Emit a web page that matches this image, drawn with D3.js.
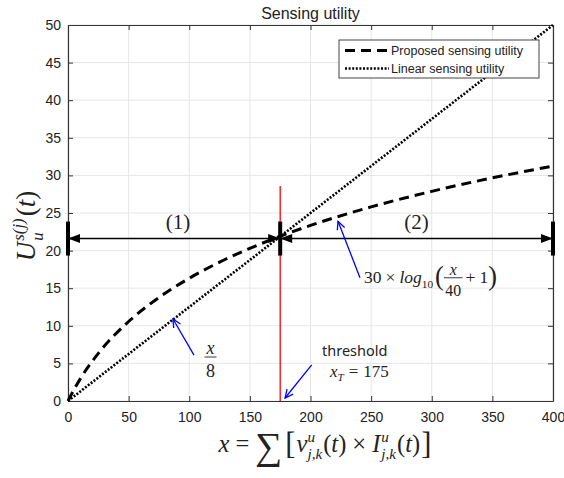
<!DOCTYPE html>
<html>
<head>
<meta charset="utf-8">
<script src="https://cdn.jsdelivr.net/npm/d3@7"></script>
<style>
  body { margin: 0; background: #fff; }
  text { fill: #222; }
</style>
</head>
<body>
<svg id="chart" width="564" height="478"></svg>
<script>
// ---- data ----
const xTicks = [0, 50, 100, 150, 200, 250, 300, 350, 400];
const yTicks = [0, 5, 10, 15, 20, 25, 30, 35, 40, 45, 50];

// proposed (logarithmic) sensing utility
const proposedX = [0, 5, 10, 25, 50, 75, 100, 125, 150, 175, 200, 250, 300, 350, 400];
const proposedY = [0, 1.53, 2.91, 6.33, 10.57, 13.76, 16.32, 18.46, 20.30, 21.91, 23.35, 25.81, 27.88, 29.67, 31.24];

// linear sensing utility
const linearX = [0, 400];
const linearY = [0, 50];

const legendLabels = ["Proposed sensing utility", "Linear sensing utility"];

// threshold and the two regions
const threshold = 175;
const thresholdTop = 28.6;
const regionBounds = [0, 175, 400];
const regionLevel = 21.6;
const regionLabels = ["(1)", "(2)"];

// blue pointer arrows: tail and tip in data units
const pointerTailX = [103.9, 240.8, 201.0];
const pointerTailY = [6.1, 16.4, 4.8];
const pointerTipX = [86.6, 222.7, 179.0];
const pointerTipY = [10.9, 23.9, 0.4];

// ---- layout ----
const svg = d3.select("#chart");
const L = 68, R = 553, T = 25, B = 401;
const x = d3.scaleLinear().domain([0, 400]).range([L, R]);
const y = d3.scaleLinear().domain([0, 50]).range([B, T]);

const sans = "'Liberation Sans', Arial, sans-serif";
const serif = "'Liberation Serif', 'DejaVu Serif', serif";

// grid
const grid = svg.append("g");
grid.selectAll("line.gx").data(xTicks).join("line")
  .attr("x1", d => x(d)).attr("x2", d => x(d)).attr("y1", T).attr("y2", B)
  .attr("stroke", "#e6e6e6").attr("stroke-width", 1);
grid.selectAll("line.gy").data(yTicks).join("line")
  .attr("y1", d => y(d)).attr("y2", d => y(d)).attr("x1", L).attr("x2", R)
  .attr("stroke", "#e6e6e6").attr("stroke-width", 1);

// axes (ticks inward on all four sides)
function styleAxis(g) {
  g.selectAll(".domain").attr("stroke", "#333").attr("stroke-width", 1.2);
  g.selectAll(".tick line").attr("stroke", "#333");
  g.selectAll("text").style("font-family", sans).style("font-size", "14px").attr("fill", "#404040");
}
svg.append("g").attr("transform", `translate(0,${B})`)
  .call(d3.axisBottom(x).tickValues(xTicks).tickSize(-5).tickSizeOuter(0).tickPadding(11))
  .call(styleAxis);
svg.append("g").attr("transform", `translate(0,${T})`)
  .call(d3.axisTop(x).tickValues(xTicks).tickSize(-5).tickSizeOuter(0).tickFormat(""))
  .call(styleAxis);
svg.append("g").attr("transform", `translate(${L},0)`)
  .call(d3.axisLeft(y).tickValues(yTicks).tickSize(-5).tickSizeOuter(0).tickPadding(7))
  .call(styleAxis);
svg.append("g").attr("transform", `translate(${R},0)`)
  .call(d3.axisRight(y).tickValues(yTicks).tickSize(-5).tickSizeOuter(0).tickFormat(""))
  .call(styleAxis);

// title
svg.append("text").attr("x", (L + R) / 2).attr("y", 19).attr("text-anchor", "middle")
  .style("font-family", sans).style("font-size", "16px").text("Sensing utility");

// curves
const line = d3.line().x(d => x(d[0])).y(d => y(d[1])).curve(d3.curveMonotoneX);
svg.append("path").datum(linearX.map((v, i) => [v, linearY[i]]))
  .attr("d", line).attr("fill", "none").attr("stroke", "#000")
  .attr("stroke-width", 2.6).attr("stroke-dasharray", "2,1.6");
svg.append("path").datum(proposedX.map((v, i) => [v, proposedY[i]]))
  .attr("d", line).attr("fill", "none").attr("stroke", "#000")
  .attr("stroke-width", 3).attr("stroke-dasharray", "10,6");

// threshold line
svg.append("line").attr("x1", x(threshold)).attr("x2", x(threshold))
  .attr("y1", y(thresholdTop)).attr("y2", y(0))
  .attr("stroke", "#ff0000").attr("stroke-width", 1.3);

// region arrows
const ry = y(regionLevel);
svg.append("line").attr("x1", x(regionBounds[0])).attr("x2", x(regionBounds[2]))
  .attr("y1", ry).attr("y2", ry).attr("stroke", "#000").attr("stroke-width", 1.6);
function head(px, dir) { // dir: -1 points left, +1 points right
  const len = 12, h = 4.5;
  return `M${px},${ry} L${px - dir * len},${ry - h} L${px - dir * len},${ry + h} Z`;
}
const heads = [];
for (let i = 0; i < regionBounds.length - 1; i++) {
  heads.push(head(x(regionBounds[i]), -1));
  heads.push(head(x(regionBounds[i + 1]), 1));
}
svg.selectAll("path.head").data(heads).join("path").attr("d", d => d).attr("fill", "#000");
svg.selectAll("rect.bar").data(regionBounds).join("rect")
  .attr("x", d => x(d) - 2).attr("y", ry - 17).attr("width", 4).attr("height", 34).attr("fill", "#000");
svg.selectAll("text.region").data(regionLabels).join("text")
  .attr("x", (d, i) => (x(regionBounds[i]) + x(regionBounds[i + 1])) / 2 + (i === 0 ? 4 : 0))
  .attr("y", ry - 10).attr("text-anchor", "middle")
  .style("font-family", serif).style("font-size", "21px").text(d => d);

// blue pointers
const pointers = pointerTailX.map((v, i) => ({ x1: x(v), y1: y(pointerTailY[i]), x2: x(pointerTipX[i]), y2: y(pointerTipY[i]) }));
const pg = svg.append("g").attr("stroke", "#0000ff").attr("fill", "none").attr("stroke-width", 1.3);
pointers.forEach(p => {
  pg.append("line").attr("x1", p.x1).attr("y1", p.y1).attr("x2", p.x2).attr("y2", p.y2);
  const a = Math.atan2(p.y2 - p.y1, p.x2 - p.x1), len = 9, sp = 0.45;
  pg.append("path").attr("d",
    `M${p.x2 - len * Math.cos(a - sp)},${p.y2 - len * Math.sin(a - sp)} L${p.x2},${p.y2} L${p.x2 - len * Math.cos(a + sp)},${p.y2 - len * Math.sin(a + sp)}`);
});

// legend
const lg = svg.append("g");
lg.append("rect").attr("x", 339).attr("y", 40).attr("width", 200).attr("height", 38)
  .attr("fill", "#fff").attr("stroke", "#444").attr("stroke-width", 1);
lg.append("line").attr("x1", 345).attr("x2", 389).attr("y1", 50.5).attr("y2", 50.5)
  .attr("stroke", "#000").attr("stroke-width", 3).attr("stroke-dasharray", "10,6");
lg.append("line").attr("x1", 345).attr("x2", 389).attr("y1", 68.5).attr("y2", 68.5)
  .attr("stroke", "#000").attr("stroke-width", 2.4).attr("stroke-dasharray", "2,1.6");
lg.selectAll("text").data(legendLabels).join("text")
  .attr("x", 391).attr("y", (d, i) => 55 + i * 18)
  .style("font-family", sans).style("font-size", "12.5px").text(d => d);

// ---- typeset math helper ----
function mathLine(parent, parts, size) {
  const g = parent.append("g").style("font-family", serif);
  let cx = 0;
  const txt = (t, px, py, fs, it) => g.append("text").attr("x", px).attr("y", py)
    .style("font-size", fs + "px").style("font-style", it ? "italic" : "normal").text(t);
  parts.forEach(p => {
    if (p.stack) {
      const fs = size * 0.62;
      const a = txt(p.stack[0], cx, -size * 0.42, fs, true);
      const b = txt(p.stack[1], cx, size * 0.28, fs, true);
      cx += Math.max(a.node().getComputedTextLength(), b.node().getComputedTextLength()) + 1;
    } else if (p.frac) {
      const fs = size * 0.9;
      const a = txt(p.frac[0], 0, -size * 0.45, fs, true);
      const b = txt(p.frac[1], 0, size * 0.72, fs, false);
      const w = Math.max(a.node().getComputedTextLength(), b.node().getComputedTextLength()) + 3;
      a.attr("x", cx + (w - a.node().getComputedTextLength()) / 2);
      b.attr("x", cx + (w - b.node().getComputedTextLength()) / 2);
      g.append("line").attr("x1", cx).attr("x2", cx + w).attr("y1", -size * 0.3).attr("y2", -size * 0.3)
        .attr("stroke", "#222").attr("stroke-width", 0.9);
      cx += w + 1;
    } else {
      const fs = size * (p.scale || 1);
      const t = txt(p.t, cx + (p.pre || 0), p.dy || 0, fs, p.it);
      cx += (p.pre || 0) + t.node().getComputedTextLength() + (p.gap || 0);
    }
  });
  return { g, width: cx };
}

// x-axis label
const xl = mathLine(svg, [
  { t: "x", it: true, gap: 6 }, { t: "=", gap: 6 },
  { t: "∑", scale: 1.55, dy: 7, gap: 3 }, { t: "[", scale: 1.25, dy: 2, gap: 1 },
  { t: "v", it: true }, { stack: ["u", "j,k"] }, { t: "(" }, { t: "t", it: true }, { t: ")", gap: 6 },
  { t: "×", gap: 6 },
  { t: "I", it: true, gap: 1 }, { stack: ["u", "j,k"] }, { t: "(" }, { t: "t", it: true }, { t: ")", gap: 1 },
  { t: "]", scale: 1.25, dy: 2 }
], 24.5);
xl.g.attr("transform", `translate(${325 - xl.width / 2},452)`);

// y-axis label
const yl = mathLine(svg, [
  { t: "U", it: true, gap: 1 }, { stack: ["s(j)", "u"] }, { t: "(", pre: 1 }, { t: "t", it: true }, { t: ")" }
], 27);
yl.g.attr("transform", `translate(35,${226 + yl.width / 2}) rotate(-90)`);

// x/8 label
const f1 = mathLine(svg, [{ frac: ["x", "8"] }], 20);
f1.g.attr("transform", `translate(${211 - f1.width / 2},363)`);

// logarithmic utility label
const f2 = mathLine(svg, [
  { t: "30", gap: 4 }, { t: "×", gap: 4 }, { t: "log", it: true },
  { t: "10", scale: 0.65, dy: 5, gap: 2 },
  { t: "(", scale: 1.5, dy: 2 }, { frac: ["x", "40"] }, { t: "+", gap: 4, pre: 2 }, { t: "1" }, { t: ")", scale: 1.5, dy: 2 }
], 17.5);
f2.g.attr("transform", "translate(364,283)");

// threshold label
svg.append("text").attr("x", 322).attr("y", 356)
  .style("font-family", "'Noto Sans', 'Open Sans', sans-serif").style("font-size", "14.5px").text("threshold");
const f3 = mathLine(svg, [
  { t: "x", it: true }, { t: "T", it: true, scale: 0.65, dy: 4, gap: 5 }, { t: "=", gap: 5 }, { t: "175" }
], 17);
f3.g.attr("transform", "translate(330,377)");
</script>
</body>
</html>
